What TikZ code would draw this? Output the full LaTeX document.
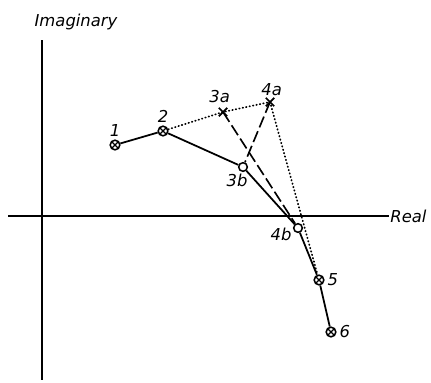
\documentclass[tikz,border=0pt]{standalone}
\usepackage{fontspec}
\setmainfont{DejaVu Sans}
\usetikzlibrary{positioning, shapes.misc}

\begin{document}
\begin{tikzpicture}[
      x=0.03cm, y=-0.03cm,
      font=\itshape\fontsize{14}{16}\selectfont,
      lbl/.style={inner sep=1pt},
      otimes/.style={circle, draw, line width=1.3pt, inner sep=0pt, minimum size=0.29cm,
        path picture={\draw[line width=1pt] (path picture bounding box.north west) -- (path picture bounding box.south east)
                      (path picture bounding box.north east) -- (path picture bounding box.south west);}},
      ocirc/.style={circle, draw, fill=white, line width=1.3pt, inner sep=0pt, minimum size=0.26cm},
      xmark/.style={cross out, draw, line width=1.5pt, inner sep=0pt, minimum size=0.2cm},
      locus/.style={line width=1.5pt},
      dotline/.style={line width=1.5pt, dash pattern=on 0.5pt off 2.5pt, line cap=round},
      dashline/.style={line width=1.4pt, dash pattern=on 10pt off 3.5pt}
    ]
    \useasboundingbox (0,0) rectangle (431,382);
    %% axes
    \coordinate (ytop) at (42,40);
    \coordinate (ybot) at (42,380);
    \coordinate (xleft) at (8,216);
    \node[lbl] (im) at (76,22) {Imaginary};
    \node[lbl, anchor=west] (re) at (389,216) {Real};
    \draw[locus] (ytop) -- (ybot);
    \draw[locus] (xleft) -- (re);
    %% points
    \node[otimes] (p1) at (115,145) {};
    \node[otimes] (p2) at (163,131) {};
    \node[xmark] (p3a) at (223,112) {};
    \node[xmark] (p4a) at (270,102) {};
    \node[ocirc] (p3b) at (243,167) {};
    \node[ocirc] (p4b) at (298,228) {};
    \node[otimes] (p5) at (319,280) {};
    \node[otimes] (p6) at (331,332) {};
    %% labels
    \node[lbl, above=0.6mm of p1] (l1) {1};
    \node[lbl, above=0.4mm of p2] (l2) {2};
    \node[lbl, above=1.2mm of p3a, xshift=-1mm] (l3a) {3a};
    \node[lbl, above=0.2mm of p4a, xshift=0.5mm] (l4a) {4a};
    \node[lbl, below=0.3mm of p3b, xshift=-1.8mm] (l3b) {3b};
    \node[lbl, left=0mm of p4b, yshift=-2mm] (l4b) {4b};
    \node[lbl, right=0.5mm of p5] (l5) {5};
    \node[lbl, right=0.5mm of p6] (l6) {6};
    %% loci
    \draw[locus] (p1) -- (p2) -- (p3b) -- (p4b) -- (p5) -- (p6);
    \draw[dotline] (p2) -- (p3a.center) -- (p4a.center) -- (p5);
    \draw[dashline] (p3a.center) -- (p4b);
    \draw[dashline] (p4a.center) -- (p3b);
  \end{tikzpicture}
\end{document}
